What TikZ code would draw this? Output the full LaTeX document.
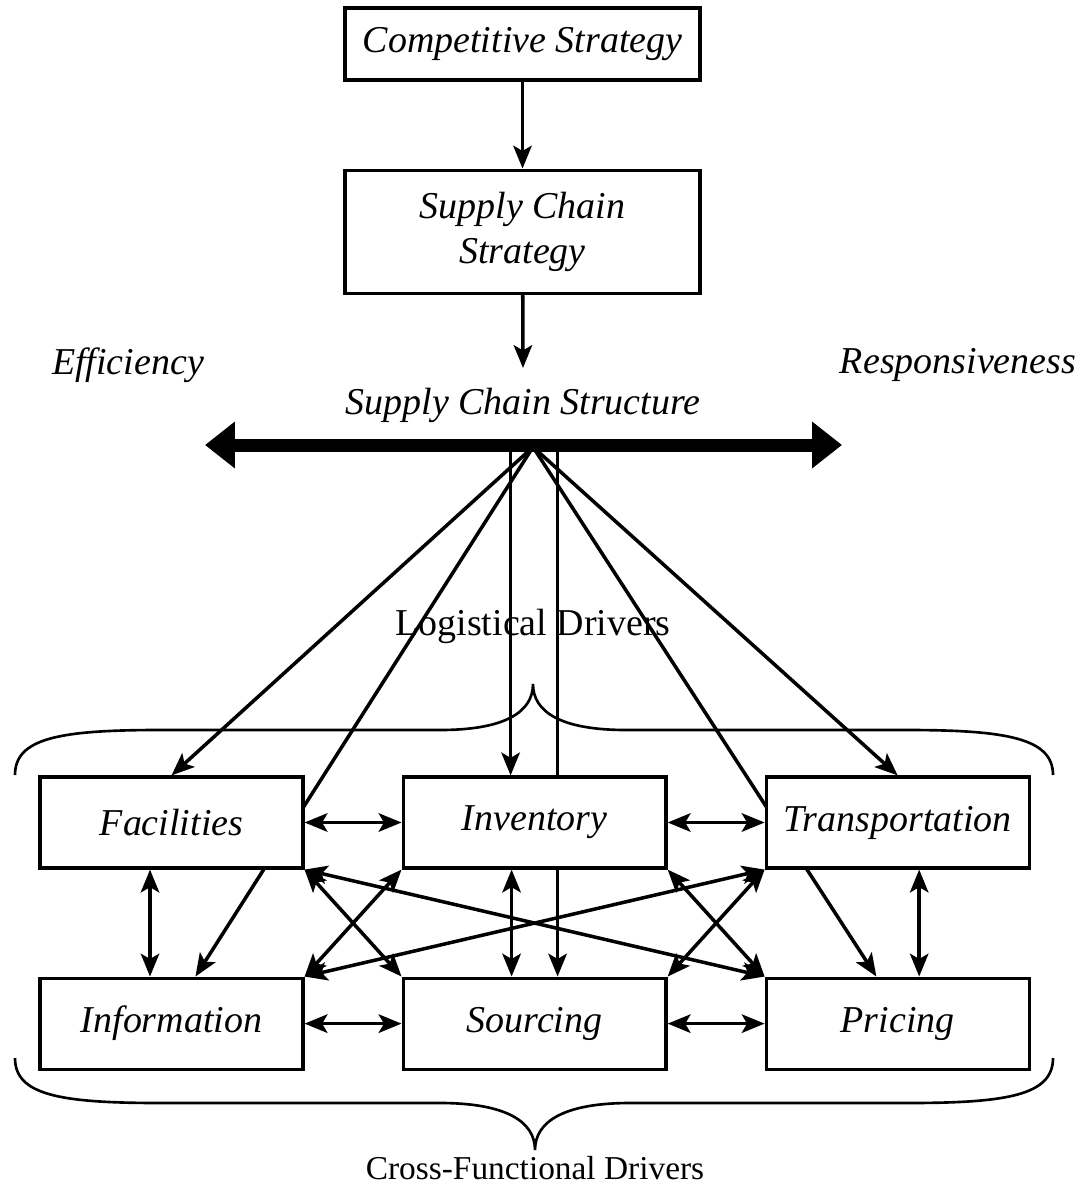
\documentclass[tikz,border=0pt]{standalone}
\usepackage{fontspec}
\setmainfont{Liberation Serif}
\usetikzlibrary{arrows.meta,positioning,calc}
\pgfdeclarelayer{background}
\pgfsetlayers{background,main}

\begin{document}
\begin{tikzpicture}[
  x=0.02cm,y=-0.02cm,
  node distance=1.94cm,
  >={Stealth[length=13pt,width=10.5pt,inset=3pt]},
  box/.style={draw,line width=1.8pt,fill=white,align=center,inner sep=0pt,minimum width=5.26cm,minimum height=1.82cm,font=\fontsize{21.6}{25.6}\selectfont\itshape},
  lbl/.style={inner sep=0pt,font=\fontsize{21.6}{25.6}\selectfont\itshape},
  tag/.style={inner sep=0pt,font=\fontsize{21.6}{25.6}\selectfont},
  arrow/.style={->,line width=2pt},
  twoway/.style={<->,line width=2pt},
  brace/.style={line width=1.5pt}
]
  \useasboundingbox (0,0) rectangle (1090,1189);

  \node[box,minimum width=7.1cm,minimum height=1.44cm] (comp) at (522.5,44) {Competitive Strategy};
  \node[box,minimum width=7.1cm,minimum height=2.46cm,below=1.74cm of comp] (scs) {Supply Chain\\Strategy};
  \node[lbl] (struct) at (523,405) {Supply Chain Structure};
  \node[lbl] (eff) at (128,365) {Efficiency};
  \node[lbl] (resp) at (958,365) {Responsiveness};
  \coordinate (scsend) at (523,368);
  \coordinate (barl) at (205,445);
  \coordinate (barr) at (842,445);
  \coordinate (hub) at (533,447);

  \node[box] (fac) at (171.5,822.5) {Facilities};
  \node[box,right=of fac] (inv) {Inventory};
  \node[box,right=of inv] (trn) {Transportation};
  \node[box,below=2.14cm of fac] (info) {Information};
  \node[box,right=of info] (src) {Sourcing};
  \node[box,right=of src] (prc) {Pricing};

  \node[tag] (logi) at (533,626) {Logistical Drivers};
  \node[tag,font=\fontsize{19}{22}\selectfont] (cross) at (535,1168) {Cross-Functional Drivers};

  \coordinate (invin) at ([xshift=-0.48cm]inv.north);
  \coordinate (srcin) at ([xshift=0.46cm]src.north);

  \draw[arrow] (comp) -- (scs);
  \draw[arrow] (scs) -- (scsend);

  \begin{pgfonlayer}{background}
    \draw[arrow] (hub) -- ($(info.north west)!0.59!(info.north east)$);
    \draw[arrow] (hub) -- ($(prc.north west)!0.42!(prc.north east)$);
    \draw[arrow] (srcin |- barl) -- (srcin);
  \end{pgfonlayer}
  \draw[arrow] (hub) -- (fac.north);
  \draw[arrow] (hub) -- (trn.north);
  \draw[arrow] (invin |- barl) -- (invin);
  \draw[line width=7.4pt,{Triangle[length=0.6cm,width=0.9cm]}-{Triangle[length=0.6cm,width=0.9cm]}] (barl) -- (barr);

  \draw[twoway] (fac) -- (inv);
  \draw[twoway] (inv) -- (trn);
  \draw[twoway] (info) -- (src);
  \draw[twoway] (src) -- (prc);
  \draw[twoway] ([xshift=-0.43cm]fac.south) -- ([xshift=-0.43cm]info.north);
  \draw[twoway] ([xshift=-0.46cm]inv.south) -- ([xshift=-0.46cm]src.north);
  \draw[twoway] ([xshift=0.43cm]trn.south) -- ([xshift=0.43cm]prc.north);
  \draw[twoway] (fac.south east) -- (src.north west);
  \draw[twoway] (inv.south west) -- (info.north east);
  \draw[twoway] (fac.south east) -- (prc.north west);
  \draw[twoway] (trn.south west) -- (info.north east);
  \draw[twoway] (inv.south east) -- (prc.north west);
  \draw[twoway] (trn.south west) -- (src.north east);

  \draw[brace] (15,775) .. controls (15,738) and (60,730) .. (160,730) -- (440,730)
    .. controls (505,730) and (533,712) .. (533,684)
    .. controls (533,712) and (561,730) .. (626,730) -- (906,730)
    .. controls (1006,730) and (1053,738) .. (1053,775);
  \draw[brace] (15,1058) .. controls (15,1095) and (60,1103) .. (160,1103) -- (440,1103)
    .. controls (505,1103) and (535,1121) .. (535,1150)
    .. controls (535,1121) and (565,1103) .. (630,1103) -- (908,1103)
    .. controls (1008,1103) and (1053,1095) .. (1053,1058);
\end{tikzpicture}
\end{document}
